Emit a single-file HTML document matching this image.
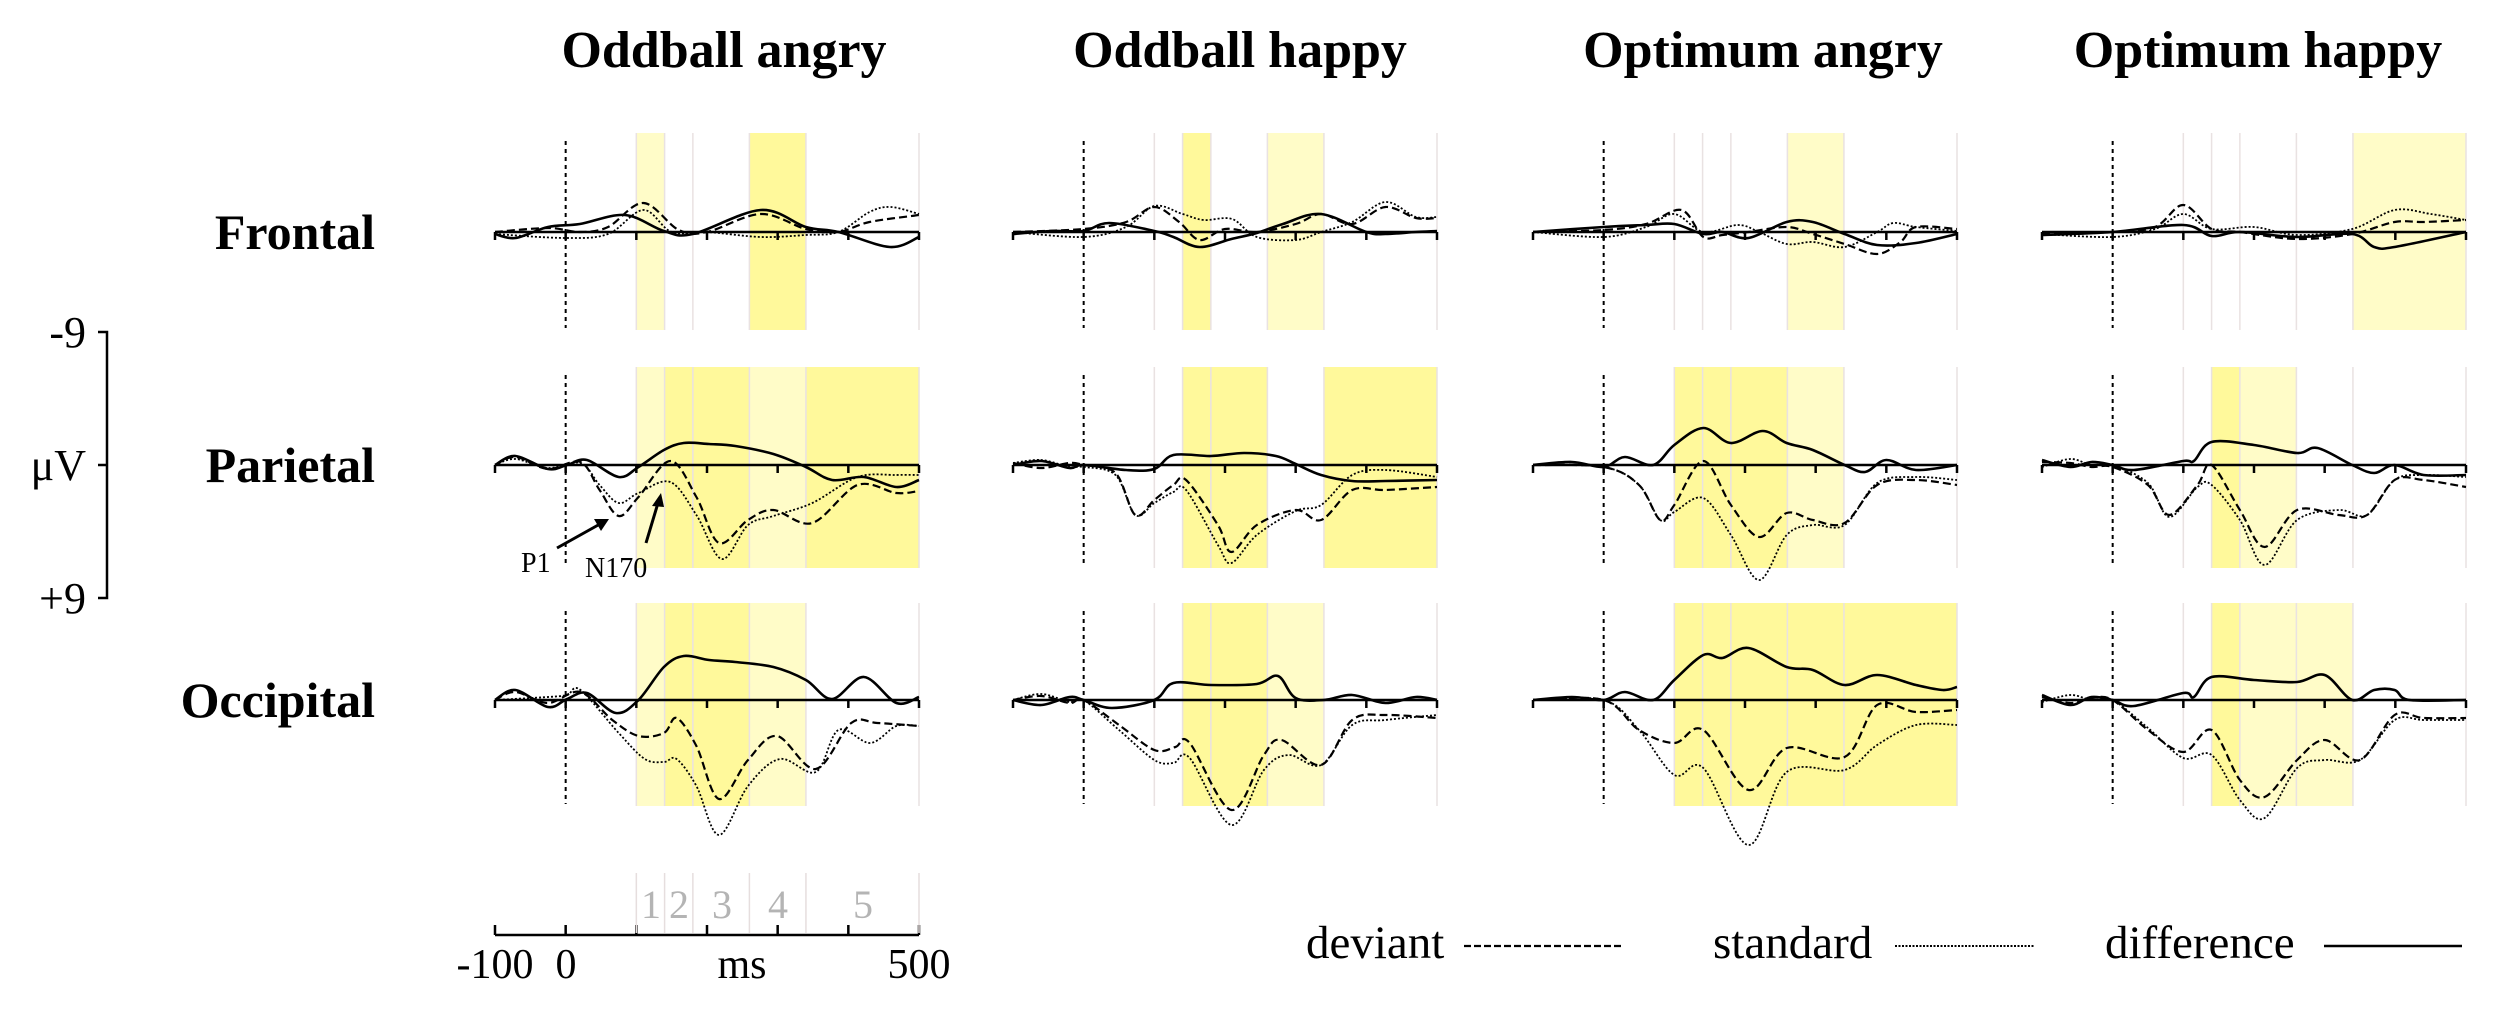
<!DOCTYPE html>
<html><head><meta charset="utf-8"><style>
html,body{margin:0;padding:0;background:#fff;}
svg{display:block;font-family:"Liberation Serif",serif;}
</style></head><body>
<svg id="s" width="2500" height="1022" viewBox="0 0 2500 1022" xmlns="http://www.w3.org/2000/svg">
<rect width="2500" height="1022" fill="#fff"/>
<g id="shade"></g>
<g id="grid"></g>
<g id="curves" fill="none" stroke="#000"></g>
<g font-weight="bold" font-size="52" text-anchor="middle">
<text x="724" y="67">Oddball angry</text>
<text x="1240" y="67">Oddball happy</text>
<text x="1763" y="67">Optimum angry</text>
<text x="2258" y="67">Optimum happy</text>
</g>
<g font-weight="bold" font-size="50" text-anchor="end">
<text x="375" y="249">Frontal</text>
<text x="375" y="482">Parietal</text>
<text x="375" y="717">Occipital</text>
</g>
<g stroke="#000" stroke-width="2.5" fill="none">
<path d="M98 332 H107 V598 H98 M98 465 H107"/>
</g>
<g font-size="44" text-anchor="end">
<text x="86" y="347">-9</text>
<text x="86" y="480">μV</text>
<text x="86" y="613">+9</text>
</g>
<g font-size="28">
<text x="521" y="572">P1</text>
<text x="585" y="577">N170</text>
</g>
<g stroke="#000" stroke-width="3">
<line x1="557" y1="548" x2="600" y2="524"/>
<line x1="646" y1="543" x2="658" y2="503"/>
</g>
<polygon points="609,519 594,519 601,531" fill="#000"/>
<polygon points="661,493 652,506 664,507" fill="#000"/>
<g id="bax"></g>
<g font-size="42" text-anchor="middle">
<text x="495" y="978">-100</text>
<text x="566" y="978">0</text>
<text x="742" y="978">ms</text>
<text x="919" y="978">500</text>
</g>
<g font-size="40" text-anchor="middle" fill="#b4b4b4">
<text x="651" y="918">1</text>
<text x="679" y="918">2</text>
<text x="722" y="918">3</text>
<text x="778" y="918">4</text>
<text x="863" y="918">5</text>
</g>
<g font-size="47">
<text x="1306" y="958">deviant</text>
<text x="1713" y="958">standard</text>
<text x="2105" y="958">difference</text>
</g>
<line x1="1464" y1="946" x2="1622" y2="946" stroke="#000" stroke-width="2.2" stroke-dasharray="7,3"/>
<line x1="1895" y1="946" x2="2035" y2="946" stroke="#000" stroke-width="2" stroke-dasharray="2,1.5"/>
<line x1="2324" y1="946" x2="2462" y2="946" stroke="#000" stroke-width="2.5"/>
</svg>
<script>
var NS="http://www.w3.org/2000/svg";
function el(p,t,a){var e=document.createElementNS(NS,t);for(var k in a)e.setAttribute(k,a[k]);p.appendChild(e);return e;}
var X0=[495,1013,1533,2042];
var BASE=[232,465,700];
var ROWS=[[133,330],[367,568],[603,806]];
var W=[[100,140],[140,180],[180,260],[260,340],[340,500]];
function xm(p,ms){return X0[p]+(ms+100)*424/600;}
var SH={
0:["L--S-","LSSLS","LSSL-"],
1:["-S-L-","-SS-S","-SSL-"],
2:["---L-","SSSL-","SSSSS"],
3:["----L","-SL--","-SLL-"]};
var sh=document.getElementById("shade"),gr=document.getElementById("grid"),cv=document.getElementById("curves"),bax=document.getElementById("bax");
for(var p=0;p<4;p++){for(var r=0;r<3;r++){
 var s=SH[p][r];
 for(var w=0;w<5;w++){var c=s[w];if(c=="-")continue;
  var xa=xm(p,W[w][0]),xb=xm(p,W[w][1]);
  el(sh,"rect",{x:xa,y:ROWS[r][0],width:xb-xa,height:ROWS[r][1]-ROWS[r][0],fill:c=="S"?"#fff99b":"#fffcc8"});}
 [100,140,180,260,340,500].forEach(function(t){var x=xm(p,t);el(gr,"line",{x1:x,x2:x,y1:ROWS[r][0],y2:ROWS[r][1],stroke:"#e9e2e2","stroke-width":1.5});});
 var x0=xm(p,0);
 el(gr,"line",{x1:x0,x2:x0,y1:ROWS[r][0]+8,y2:ROWS[r][1]-2,stroke:"#000","stroke-width":2,"stroke-dasharray":"4,4"});
 var b=BASE[r];
 el(gr,"line",{x1:xm(p,-100),x2:xm(p,500),y1:b,y2:b,stroke:"#000","stroke-width":2.5});
 for(var t=-100;t<=500;t+=100){var x=xm(p,t);el(gr,"line",{x1:x,x2:x,y1:b,y2:b+8,stroke:"#000","stroke-width":2.5});}
}}
el(bax,"line",{x1:495,x2:919,y1:935,y2:935,stroke:"#000","stroke-width":2.5});
for(var t=-100;t<=500;t+=100){var x=xm(0,t);el(bax,"line",{x1:x,x2:x,y1:925,y2:935,stroke:"#000","stroke-width":2.5});}
[100,140,180,260,340,500].forEach(function(t){var x=xm(0,t);el(bax,"line",{x1:x,x2:x,y1:873,y2:933,stroke:"#e6dede","stroke-width":1.5});});

function path(p,b,pts){
 var P=[];for(var i=0;i<pts.length;i+=2)P.push([xm(p,pts[i]),b+pts[i+1]]);
 var d="M"+P[0][0].toFixed(1)+" "+P[0][1].toFixed(1);
 for(var i=0;i<P.length-1;i++){
  var p0=P[i-1]||P[i],p1=P[i],p2=P[i+1],p3=P[i+2]||p2;
  var c1=[p1[0]+(p2[0]-p0[0])/6,p1[1]+(p2[1]-p0[1])/6],c2=[p2[0]-(p3[0]-p1[0])/6,p2[1]-(p3[1]-p1[1])/6];
  d+=" C"+c1[0].toFixed(1)+" "+c1[1].toFixed(1)+" "+c2[0].toFixed(1)+" "+c2[1].toFixed(1)+" "+p2[0].toFixed(1)+" "+p2[1].toFixed(1);}
 return d;}
var D={
0:[
 {s:[-100,2,-71,6,-25,-5,20,-8,84,-17,139,-1,180,2,276,-22,340,-5,386,0,459,15,500,5],
  d:[-100,0,-25,-4,20,0,60,-5,110,-29,160,-2,200,0,276,-18,340,-3,386,0,430,-10,500,-17],
  o:[-100,2,0,6,60,2,110,-22,150,0,200,0,276,5,340,3,386,0,430,-20,460,-25,500,-18]},
 {s:[-100,0,-71,-9,-25,4,2,0,30,-5,75,12,103,2,139,-15,167,-22,203,-21,240,-19,294,-11,340,2,377,15,422,12,468,22,500,15],
  d:[-100,0,-71,-8,-25,4,21,-3,48,25,75,51,103,32,148,-4,185,32,217,78,258,55,294,45,349,58,413,20,468,28,500,26],
  o:[-100,0,-71,-6,-25,3,21,-2,48,20,75,38,103,28,148,17,185,50,221,94,258,60,294,51,349,38,413,12,468,10,500,10]},
 {s:[-100,0,-71,-10,-25,7,2,-1,30,-7,71,13,103,0,139,-33,167,-44,203,-40,240,-38,294,-33,340,-20,377,-1,422,-23,468,3,500,-3],
  d:[-100,0,-71,-8,-25,3,21,-8,66,20,103,36,139,33,157,18,185,46,217,99,258,60,299,36,354,69,404,23,441,23,500,26],
  o:[-100,0,-25,-3,2,-5,21,-10,75,33,112,59,139,62,157,59,185,86,217,135,258,86,303,59,354,72,386,30,431,43,468,26,500,26]}],
1:[
 {s:[-100,2,-45,-1,0,-1,36,-9,100,-1,127,5,164,15,209,7,245,1,282,-8,336,-18,400,0,427,2,470,0,500,-1],
  d:[-100,0,0,-3,60,-10,100,-25,135,-10,164,8,200,-3,245,0,300,-8,336,-18,380,-8,427,-25,470,-14,500,-14],
  o:[-100,0,0,5,60,-5,100,-26,140,-18,170,-12,210,-13,245,5,300,8,336,0,380,-10,427,-30,470,-15,500,-15]},
 {s:[-100,0,-60,-4,-20,3,0,0,60,5,100,4,127,-10,180,-9,227,-12,272,-9,300,-1,336,10,380,16,427,16,500,15],
  d:[-100,-2,-60,3,-20,-2,0,0,45,8,73,50,100,35,127,20,145,15,190,60,209,87,245,60,300,45,336,55,380,25,427,25,500,22],
  o:[-100,-2,-60,-5,-20,2,0,2,45,10,73,50,100,38,127,27,145,25,190,80,209,98,245,70,300,46,336,40,380,10,427,5,500,12]},
 {s:[-100,0,-60,5,-20,-3,0,0,40,8,100,0,127,-17,180,-15,245,-16,275,-24,300,-2,340,0,380,-5,427,3,470,-3,500,0],
  d:[-100,0,-60,-4,-20,3,0,0,50,25,100,50,130,47,150,43,209,110,255,55,280,40,336,65,380,20,427,15,500,18],
  o:[-100,0,-60,-6,-20,2,0,0,50,30,100,60,127,63,150,58,209,125,255,70,290,55,336,65,380,25,427,20,500,15]}],
2:[
 {s:[-100,0,0,-5,60,-7,100,-8,141,2,168,0,205,6,259,-10,296,-10,341,2,387,13,442,11,500,2],
  d:[-100,0,0,-2,60,-8,110,-22,141,5,168,3,205,0,259,-5,296,2,341,12,387,22,420,10,442,-5,500,-3],
  o:[-100,0,0,5,60,-5,100,-18,141,0,190,-7,220,0,259,12,296,10,341,15,387,0,410,-9,442,-5,500,-1]},
 {s:[-100,0,-45,-3,0,2,30,-8,70,0,100,-20,141,-37,180,-22,225,-34,259,-22,296,-15,341,0,370,7,400,-5,442,5,500,0],
  d:[-100,0,0,2,50,20,80,55,100,40,141,-4,180,40,220,72,259,48,296,55,341,58,387,20,442,15,500,20],
  o:[-100,0,0,2,50,20,80,55,100,47,141,33,180,70,220,115,259,70,296,60,341,60,387,18,442,12,500,15]},
 {s:[-100,0,-45,-3,0,0,30,-8,70,0,100,-20,141,-45,168,-42,205,-52,259,-33,296,-30,341,-15,387,-25,442,-15,480,-10,500,-13],
  d:[-100,0,0,0,50,30,100,43,141,30,205,90,259,48,341,57,387,5,442,12,500,10],
  o:[-100,0,0,0,50,30,100,75,141,68,205,145,259,72,341,70,387,45,442,25,500,25]}],
3:[
 {s:[-100,3,0,0,100,-7,140,4,180,0,261,5,339,2,370,15,399,15,500,0],
  d:[-100,2,0,0,60,-5,100,-27,140,-3,180,0,261,7,339,2,399,-10,440,-10,500,-12],
  o:[-100,2,0,5,60,-3,100,-18,140,-3,200,-5,261,3,339,-3,399,-22,450,-18,500,-12]},
 {s:[-100,-5,-60,2,-30,-3,0,0,30,5,100,-4,115,-4,140,-23,200,-20,261,-12,290,-17,339,0,370,8,399,0,440,10,500,10],
  d:[-100,-3,-60,-2,-30,2,0,2,50,20,80,50,120,20,140,0,180,45,215,82,261,45,320,50,360,50,399,15,440,15,500,22],
  o:[-100,2,-60,-6,-30,0,0,0,50,18,80,52,120,22,140,20,180,55,215,100,261,55,320,45,360,50,399,15,440,10,500,12]},
 {s:[-100,-5,-60,5,-30,-3,0,0,30,6,100,-7,115,-3,140,-23,200,-20,261,-18,300,-25,339,0,370,-10,399,-10,420,0,500,0],
  d:[-100,-3,-60,3,-30,-2,0,0,50,30,100,52,140,30,180,80,215,97,261,60,300,40,350,60,399,15,440,18,500,18],
  o:[-100,2,-60,-5,-30,0,0,0,50,28,100,58,140,55,180,100,215,118,261,68,300,60,350,60,399,20,440,20,500,20]}]};
for(var p=0;p<4;p++)for(var r=0;r<3;r++){var g=D[p][r],b=BASE[r];
 el(cv,"path",{d:path(p,b,g.o),"stroke-width":1.8,"stroke-dasharray":"2,2"});
 el(cv,"path",{d:path(p,b,g.d),"stroke-width":2.2,"stroke-dasharray":"8,4"});
 el(cv,"path",{d:path(p,b,g.s),"stroke-width":2.6});}
</script>
</body></html>
